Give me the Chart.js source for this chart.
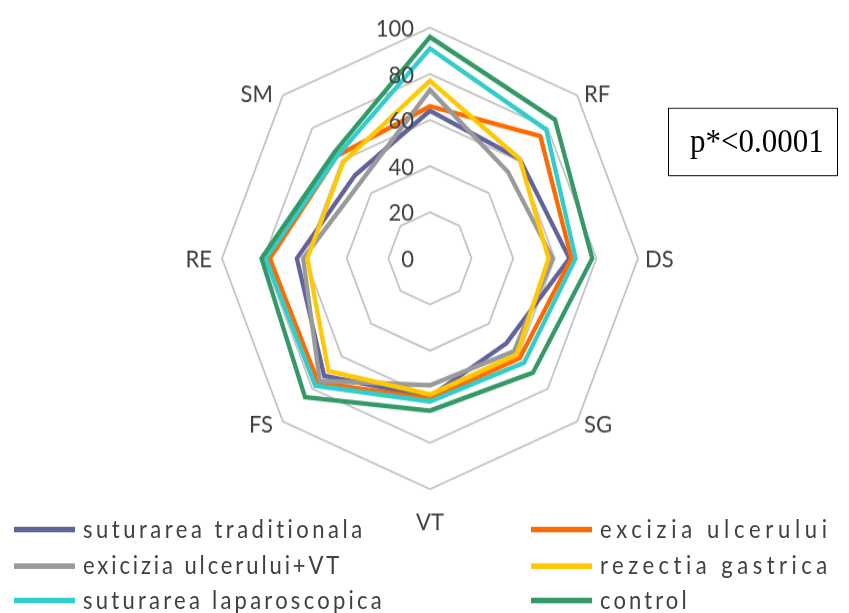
<!DOCTYPE html>
<html>
<head>
<meta charset="utf-8">
<script src="https://cdn.jsdelivr.net/npm/chart.js@4"></script>
<style>
  html, body { margin: 0; padding: 0; background: #fff; overflow: hidden; }
  #wrap { position: absolute; left: 0; top: 0; width: 849px; height: 553px;
          transform: scaleY(1.109); transform-origin: 0 0; }
  #c { position: absolute; left: 0; top: 0; }
  .item { position: absolute; height: 30px; font: 22px Lato, sans-serif; color: #404040;
          white-space: nowrap; line-height: 30px; }
  .item span.sw { position: absolute; left: 0; top: 13px; width: 61px; height: 4.5px; }
  .item span.tx { position: absolute; left: 69px; top: 0; }
  #pbox { position: absolute; left: 668px; top: 97px; width: 170px; height: 62px;
          border: 1.5px solid #000; box-sizing: border-box;
          font: 31px "Liberation Serif", "Times New Roman", serif; color: #000;
          line-height: 57px; padding-left: 21px; }
</style>
</head>
<body>
<div id="wrap">
  <canvas id="c" width="849" height="553"></canvas>
  <div id="legend"></div>
  <div id="pbox">p*&lt;0.0001</div>
</div>
<script>
// axes, clockwise from the top
const axisLabels = ['', 'RF', 'DS', 'SG', 'VT', 'FS', 'RE', 'SM'];
const tickValues = [0, 20, 40, 60, 80, 100];

const seriesNames = [
  'suturarea traditionala', 'excizia ulcerului',
  'exicizia ulcerului+VT', 'rezectia gastrica',
  'suturarea laparoscopica', 'control'
];
const seriesColors = ['#62639b', '#ff6a00', '#9a9a9a', '#ffc800', '#33cccc', '#339966'];

const suturareaTraditionala = [64, 61, 67, 52, 60, 72, 64, 51];
const excizia = [66, 75, 68, 61, 61, 76, 77, 63];
const exciziaVT = [73, 53, 59, 57, 55, 75, 61, 47];
const rezectia = [77, 61, 57, 59, 59, 69, 59, 59];
const laparoscopica = [91, 79, 70, 64, 62, 78, 79, 63];
const control = [96, 85, 78, 70, 66, 85, 81, 65];

const seriesData = [suturareaTraditionala, excizia, exciziaVT, rezectia, laparoscopica, control];

// tick numbers and axis names drawn on top of the lines
const axisText = {
  id: 'axisText',
  afterDatasetsDraw(chart) {
    const r = chart.scales.r;
    const ctx = chart.ctx;
    ctx.save();
    ctx.fillStyle = '#404040';
    ctx.font = '22px Lato';
    ctx.textBaseline = 'middle';
    ctx.textAlign = 'right';
    tickValues.forEach(v => {
      const p = r.getPointPositionForValue(0, v);
      ctx.fillText(String(v), p.x - 16, p.y + 1);
    });
    axisLabels.forEach((lab, i) => {
      if (!lab) return;
      const p = r.getPointPositionForValue(i, 100);
      const dx = p.x - r.xCenter, dy = p.y - r.yCenter;
      let x = p.x, y = p.y;
      if (dx > 1) { ctx.textAlign = 'left'; x += 7; }
      else if (dx < -1) { ctx.textAlign = 'right'; x -= 10; }
      else { ctx.textAlign = 'center'; }
      if (Math.abs(dx) < 1 && dy > 0) y += 29;
      else if (dy < -1) y -= 2;
      else if (dy > 1) y += 2;
      ctx.fillText(lab, x, y + 1);
    });
    ctx.restore();
  }
};

new Chart(document.getElementById('c'), {
  type: 'radar',
  data: {
    labels: axisLabels,
    datasets: seriesNames.map((name, i) => ({
      label: name,
      data: seriesData[i],
      borderColor: seriesColors[i],
      backgroundColor: 'transparent',
      borderWidth: 4.3,
      pointRadius: 0,
      pointHoverRadius: 0,
      fill: false,
      order: seriesNames.length - i
    }))
  },
  options: {
    responsive: false,
    animation: false,
    devicePixelRatio: 1,
    layout: { padding: { left: 222, top: 25, right: 211, bottom: 112 } },
    plugins: { legend: { display: false }, tooltip: { enabled: false } },
    scales: {
      r: {
        min: 0,
        max: 100,
        ticks: { stepSize: 20, display: false },
        pointLabels: { display: false },
        angleLines: { display: false },
        grid: { color: '#c4c4c4', lineWidth: 1.8 }
      }
    }
  },
  plugins: [axisText]
});

// html legend, two columns
const legendPos = [[14, 462], [531, 462], [14, 495], [531, 495], [14, 526], [531, 526]];
const legendSpacing = [3.5, 4.7, 2.9, 4.5, 3.25, 3.1];
const legend = document.getElementById('legend');
seriesNames.forEach((name, i) => {
  const d = document.createElement('div');
  d.className = 'item';
  d.style.left = legendPos[i][0] + 'px';
  d.style.top = legendPos[i][1] + 'px';
  d.style.letterSpacing = legendSpacing[i] + 'px';
  d.innerHTML = '<span class="sw" style="background:' + seriesColors[i] + '"></span><span class="tx">' + name + '</span>';
  legend.appendChild(d);
});
</script>
</body>
</html>
